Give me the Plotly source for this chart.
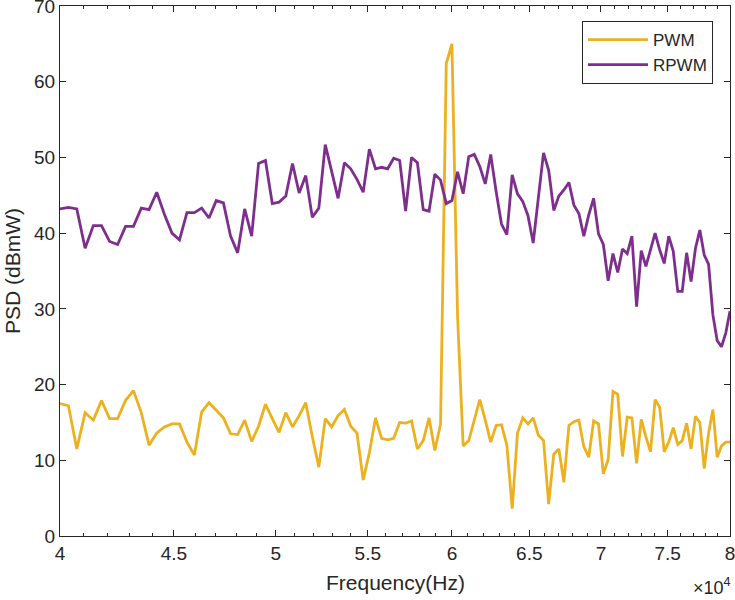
import numpy as np
import plotly.graph_objects as go

# Frequency grid (Hz): 115 equally spaced bins from 40 kHz to 80 kHz
freq = np.linspace(40000, 80000, 115)

pwm = [17.5, 17.2, 11.5, 16.3, 15.3, 17.9, 15.5, 15.5, 17.9, 19.2,
       16.3, 12.0, 13.6, 14.4, 14.8, 14.8, 12.4, 10.7, 16.4, 17.6,
       16.6, 15.6, 13.5, 13.4, 15.3, 12.5, 14.5, 17.4, 15.5, 13.7,
       16.3, 14.4, 15.9, 17.6, 13.1, 9.1, 15.5, 14.4, 15.9, 16.7,
       14.5, 13.6, 7.4, 11.0, 15.6, 12.9, 12.7, 12.9, 15.0, 14.9,
       15.2, 11.5, 12.6, 15.6, 11.3, 14.8, 62.4, 65.0, 29.0, 11.9,
       12.6, 15.3, 18.0, 15.3, 12.4, 14.6, 14.7, 12.0, 3.6, 13.6,
       15.6, 14.8, 15.6, 13.3, 12.6, 4.2, 10.8, 11.5, 7.1, 14.6,
       15.1, 15.3, 11.8, 10.4, 15.2, 14.8, 8.2, 10.1, 19.1, 18.7,
       10.5, 15.7, 15.6, 9.6, 15.4, 13.1, 11.1, 18.0, 17.0, 11.1,
       12.4, 14.3, 12.1, 12.6, 14.9, 11.5, 15.8, 15.0, 8.9, 13.6,
       16.7, 10.4, 11.9, 12.4, 12.4]

rpwm = [43.2, 43.4, 43.2, 38.0, 41.0, 41.0, 38.9, 38.5, 40.9, 40.9,
        43.3, 43.1, 45.4, 42.5, 40.0, 39.1, 42.7, 42.7, 43.3, 42.0,
        44.3, 44.0, 39.6, 37.4, 43.2, 39.6, 49.2, 49.6, 43.9, 44.1,
        44.9, 49.2, 45.3, 47.6, 42.1, 43.3, 51.7, 48.2, 44.6, 49.3,
        48.5, 47.1, 45.4, 51.1, 48.5, 48.7, 48.5, 49.9, 49.6, 42.9,
        50.0, 49.3, 43.1, 42.9, 47.8, 47.0, 43.9, 44.3, 48.1, 45.2,
        50.1, 50.4, 48.8, 46.5, 50.4, 45.5, 41.2, 39.8, 47.7, 45.2,
        44.2, 42.3, 38.7, 44.7, 50.6, 48.3, 43.0, 44.9, 45.7, 46.7,
        43.7, 42.6, 39.6, 42.4, 44.6, 39.9, 38.5, 33.7, 37.3, 34.8,
        37.9, 37.3, 39.6, 30.3, 37.7, 35.6, 37.7, 40.0, 37.8, 36.0,
        39.6, 37.6, 32.3, 32.3, 37.4, 33.6, 38.0, 40.4, 37.1, 35.9,
        29.2, 25.8, 25.0, 26.8, 29.7]

x_major = [40000, 45000, 50000, 55000, 60000, 65000, 70000, 75000, 80000]
x_labels = ["4", "4.5", "5", "5.5", "6", "6.5", "7", "7.5", "8"]
x_minor = [f for f in range(41000, 80000, 1000) if f % 5000 != 0]
y_ticks = [0, 10, 20, 30, 40, 50, 60, 70]

FONT = "Liberation Sans, Arial, sans-serif"
AX = "#262626"

L, R, T, B = 60, 5, 6, 64
PW = 735 - L - R
PH = 600 - T - B

fig = go.Figure()
fig.add_trace(go.Scatter(x=freq, y=pwm, mode="lines", name="PWM",
                         line=dict(color="#EDB120", width=2.8)))
fig.add_trace(go.Scatter(x=freq, y=rpwm, mode="lines", name="RPWM",
                         line=dict(color="#7E2F8E", width=2.8)))

fig.update_layout(
    width=735, height=600,
    margin=dict(l=L, r=R, t=T, b=B, autoexpand=False),
    paper_bgcolor="white", plot_bgcolor="white",
    font=dict(family=FONT, color=AX, size=18),
    showlegend=True,
    legend=dict(x=(713 - L) / PW, y=1 - (21 - T) / PH,
                xanchor="right", yanchor="top",
                bgcolor="white", bordercolor=AX, borderwidth=1,
                font=dict(size=17, color=AX), itemwidth=60,
                tracegroupgap=0),
    xaxis=dict(type="log", range=[np.log10(40000), np.log10(80000)],
               tickvals=x_major, ticktext=x_labels,
               ticks="inside", ticklen=6, tickcolor=AX, tickwidth=1,
               minor=dict(tickvals=x_minor, ticks="inside", ticklen=3,
                          tickcolor=AX, tickwidth=1),
               showline=True, linecolor=AX, linewidth=1, mirror="allticks",
               showgrid=False, zeroline=False, automargin=False,
               ticklabeloverflow="allow",
               tickfont=dict(size=19, color=AX)),
    yaxis=dict(range=[0, 70], tickvals=y_ticks,
               ticks="inside", ticklen=6, tickcolor=AX, tickwidth=1,
               showline=True, linecolor=AX, linewidth=1, mirror="allticks",
               showgrid=False, zeroline=False, automargin=False,
               ticklabeloverflow="allow",
               tickfont=dict(size=19, color=AX)),
)

# axis titles and exponent label
fig.add_annotation(text="Frequency(Hz)", xref="paper", yref="paper",
                   x=(395 - L) / PW, y=-(582 - (T + PH)) / PH,
                   xanchor="center", yanchor="middle", showarrow=False,
                   font=dict(size=21, color=AX))
fig.add_annotation(text="PSD (dBmW)", xref="paper", yref="paper",
                   x=(12 - L) / PW, y=0.5, textangle=-90,
                   xanchor="center", yanchor="middle", showarrow=False,
                   font=dict(size=21, color=AX))
fig.add_annotation(text="×10<sup>4</sup>", xref="paper", yref="paper",
                   x=(733 - L) / PW, y=-(586 - (T + PH)) / PH,
                   xanchor="right", yanchor="middle", showarrow=False,
                   font=dict(size=18, color=AX))

fig.write_html("out.html",
               config={"displayModeBar": False},
               post_script="document.body.style.margin='0';"
                           "document.body.style.overflow='hidden';")
